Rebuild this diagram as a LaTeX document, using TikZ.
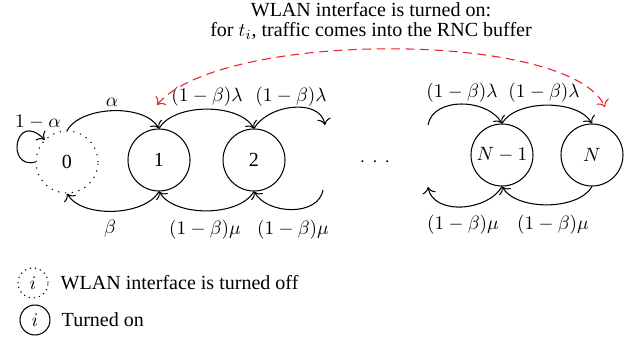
\documentclass[tikz,border=0pt]{standalone}
\usepackage{fontspec}
\setmainfont{Liberation Serif}
\definecolor{wlanred}{RGB}{232,32,40}
\usetikzlibrary{arrows.meta,positioning}

\begin{document}
\begin{tikzpicture}[
  font=\fontsize{11.4}{11.4}\selectfont,
  state/.style={circle, draw, semithick, minimum size=1.24cm, inner sep=0pt},
  offstate/.style={circle, draw, semithick, dash pattern=on 0.7pt off 3.2pt, minimum size=1.24cm, inner sep=0pt},
  trans/.style={-{To[scale=1.25]}, semithick},
  switch/.style={{To[scale=1.25]}-{To[scale=1.25]}, semithick, wlanred, dash pattern=on 5pt off 3.2pt}
]
  \useasboundingbox (0,0) rectangle (12.7,6.78);

  % Title
  \node[align=center] (title) at (7.42,6.36) {WLAN interface is turned on:\\for $t_i$, traffic comes into the RNC buffer};

  % States
  \node[offstate] (n0) at (1.34,3.54) {0};
  \node[state] (n1) at (3.18,3.58) {1};
  \node[state] (n2) at (5.08,3.58) {2};
  \node (dots) at (7.50,3.54) {$\cdot$\hspace{4pt}$\cdot$\hspace{4pt}$\cdot$};
  \node[state] (nN1) at (10.04,3.68) {$N-1$};
  \node[state] (nN) at (11.84,3.68) {$N$};

  % Open ends of the chain
  \coordinate (topR) at (6.50,4.28);
  \coordinate (botR) at (6.46,2.98);
  \coordinate (topL) at (8.56,4.28);
  \coordinate (botL) at (8.56,3.04);

  % Self loop on 0
  \draw[trans] (n0.west) .. controls +(-0.6,-0.16) and +(-0.6,0.6) .. (n0.135);
  \node (lself) at (0.76,4.34) {$1-\alpha$};

  % Upper arcs
  \draw[trans] (n0.north) to[out=60,in=120,looseness=0.8] (n1.north);
  \draw[trans] (n1.north) to[out=60,in=120,looseness=0.8] (n2.north);
  \draw[trans] (n2.north) to[out=60,in=100] (topR);
  \draw[trans] (topL) to[out=80,in=120] (nN1.north);
  \draw[trans] (nN1.north) to[out=60,in=120,looseness=0.8] (nN.north);
  \node (lalpha) at (2.24,4.74) {$\alpha$};
  \node (lup1) at (4.14,4.84) {$(1-\beta)\lambda$};
  \node (lup2) at (5.82,4.84) {$(1-\beta)\lambda$};
  \node (lup3) at (9.24,4.92) {$(1-\beta)\lambda$};
  \node (lup4) at (10.88,4.92) {$(1-\beta)\lambda$};

  % Lower arcs
  \draw[trans] (n1.south) to[out=-120,in=-60,looseness=0.8] (n0.south);
  \draw[trans] (n2.south) to[out=-120,in=-60,looseness=0.8] (n1.south);
  \draw[trans] (botR) to[out=-100,in=-60] (n2.south);
  \draw[trans] (nN1.south) to[out=-120,in=-80] (botL);
  \draw[trans] (nN.south) to[out=-120,in=-60,looseness=0.8] (nN1.south);
  \node (lbeta) at (2.20,2.20) {$\beta$};
  \node (ldn1) at (4.10,2.18) {$(1-\beta)\mu$};
  \node (ldn2) at (5.86,2.18) {$(1-\beta)\mu$};
  \node (ldn3) at (9.26,2.28) {$(1-\beta)\mu$};
  \node (ldn4) at (11.06,2.28) {$(1-\beta)\mu$};

  % WLAN switched on
  \coordinate (onA) at (3.14,4.68);
  \coordinate (onB) at (12.10,4.64);
  \draw[switch] (onA) .. controls (4.40,6.18) and (11.40,6.18) .. (onB);

  % Legend
  \node[circle, draw, semithick, dash pattern=on 0.7pt off 2.2pt, minimum size=0.6cm, inner sep=0pt] (legoff) at (0.66,1.12) {$i$};
  \node[right=0.12cm of legoff] (txtoff) {WLAN interface is turned off};
  \node[circle, draw, semithick, minimum size=0.6cm, inner sep=0pt] (legon) at (0.70,0.38) {$i$};
  \node[right=0.1cm of legon] (txton) {Turned on};
\end{tikzpicture}
\end{document}
